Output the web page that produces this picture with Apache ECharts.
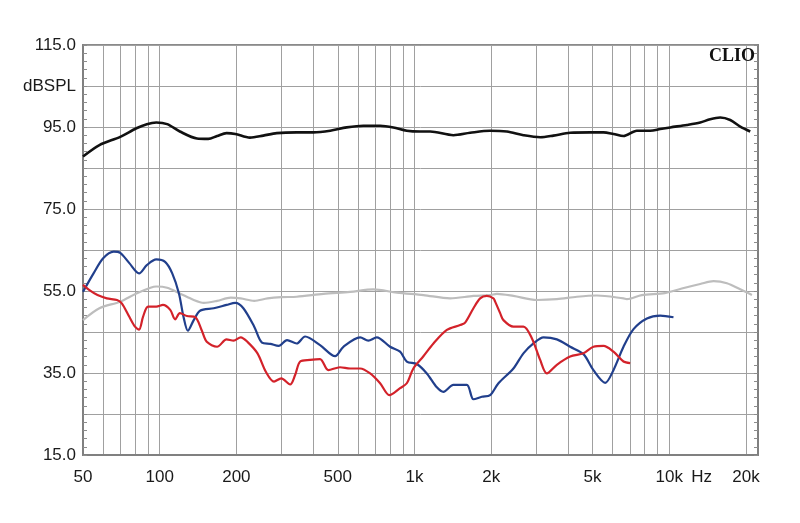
<!DOCTYPE html>
<html>
<head>
<meta charset="utf-8">
<script src="https://cdn.jsdelivr.net/npm/echarts@6/dist/echarts.min.js"></script>
<style>html,body{margin:0;padding:0;background:#fff;}#c{width:800px;height:523px;}</style>
</head>
<body>
<div id="c"></div>
<script>
// Frequency tick labels (Hz) and grid frequencies
const xLabelFreqs = [50, 100, 200, 500, 1000, 2000, 5000, 10000, 13400, 20000];
const xGridFreqs = [60,70,80,90,100,200,300,400,500,600,700,800,900,1000,2000,3000,4000,5000,6000,7000,8000,9000,10000,20000];
const yLabels = [15, 35, 55, 75, 95, 115];

// [Hz, dBSPL]
const blackCurve = [[50,87.8],[58,90.6],[70,92.6],[81,94.7],[89,95.7],[97,96.1],[107,95.7],[120,93.9],[140,92.2],[155,92.1],[168,92.8],[183,93.5],[198,93.3],[226,92.4],[255,92.9],[288,93.5],[345,93.7],[401,93.7],[467,94.1],[542,94.9],[630,95.3],[733,95.3],[826,94.9],[933,94.1],[1052,93.9],[1152,93.9],[1422,93.0],[1654,93.6],[1981,94.1],[2304,93.9],[2677,93.0],[3114,92.5],[3510,92.9],[4084,93.6],[4894,93.7],[5517,93.7],[6039,93.3],[6613,92.8],[7462,94.1],[8417,94.1],[9217,94.5],[10090,94.9],[11730,95.5],[13230,96.1],[14480,96.9],[15850,97.3],[17350,96.7],[18990,95.1],[20790,93.9]];
const grayCurve = [[50,47.9],[58,50.8],[70,52.4],[81,54.4],[92,55.8],[97,56.1],[107,55.8],[120,54.4],[136,52.8],[149,52.1],[168,52.6],[190,53.4],[208,53.2],[235,52.6],[265,53.2],[300,53.5],[345,53.6],[439,54.3],[559,54.8],[690,55.4],[852,54.6],[1084,54.0],[1380,53.2],[1704,53.8],[1981,54.0],[2106,54.3],[2445,53.8],[3022,52.8],[3621,53.0],[4339,53.6],[5200,53.9],[6613,53.2],[6817,53.0],[7800,54.0],[9600,54.5],[11200,55.6],[13230,56.7],[14920,57.4],[16840,56.9],[18990,55.4],[21110,54.0]];
const blueCurve = [[50,54.8],[55,59.3],[60,63.0],[66,64.6],[70,64.3],[76,61.8],[83,59.3],[89,61.3],[97,62.7],[105,62.1],[112,59.3],[119,54.4],[124,48.7],[129,45.3],[136,47.9],[144,50.2],[163,50.8],[183,51.6],[198,52.1],[213,50.8],[235,46.3],[252,42.4],[272,42.1],[293,41.6],[316,43.0],[345,42.2],[372,43.9],[426,41.8],[488,39.1],[526,41.4],[612,43.7],[659,42.9],[711,43.7],[802,41.4],[878,40.2],[933,37.8],[1021,37.2],[1118,34.9],[1224,31.5],[1299,30.4],[1422,32.1],[1605,32.1],[1704,28.6],[1838,29.2],[1981,29.6],[2136,32.5],[2445,36.1],[2677,39.8],[2931,42.2],[3209,43.7],[3621,43.2],[4084,41.4],[4605,39.6],[5040,35.7],[5605,32.6],[6039,35.7],[6613,41.4],[7240,45.7],[8170,48.3],[9217,49.0],[10390,48.6]];
const redCurve = [[50,56.5],[53,55.2],[57,54.0],[62,53.2],[68,52.8],[71,52.0],[76,48.7],[80,46.3],[83,45.6],[86,48.7],[90,51.2],[97,51.2],[103,51.6],[110,50.4],[115,48.1],[120,49.6],[128,48.9],[138,48.6],[146,45.5],[153,42.6],[168,41.4],[183,43.2],[195,42.9],[208,43.7],[221,42.6],[242,39.8],[261,35.3],[281,32.9],[300,33.7],[325,32.2],[340,34.5],[356,37.8],[389,38.2],[426,38.4],[459,35.7],[510,36.4],[559,36.1],[612,36.1],[670,34.9],[733,32.5],[797,29.6],[878,31.3],[933,32.5],[990,36.1],[1084,39.1],[1187,42.2],[1340,45.5],[1511,46.7],[1581,47.3],[1704,50.8],[1810,53.2],[1923,53.8],[2041,53.2],[2073,52.4],[2169,49.6],[2234,47.9],[2445,46.3],[2677,46.3],[2888,43.5],[3114,38.2],[3308,34.9],[3621,37.0],[4084,39.0],[4605,39.8],[5040,41.4],[5517,41.6],[6039,40.2],[6613,37.8],[7024,37.4]];

const L = Math.log10;
const toXY = arr => arr.map(p => [L(p[0]), p[1]]);
function fmtFreq(v) {
  const f = Math.round(Math.pow(10, v));
  if (f > 13000 && f < 14000) return 'Hz';
  if (f >= 1000) return (f / 1000) + 'k';
  return String(f);
}

const chart = echarts.init(document.getElementById('c'), null, {renderer: 'canvas'});
const gridColor = '#a0a0a0';
const tickColor = '#8c8c8c';
const mkLine = (data, color, width) => ({
  type: 'line', data: toXY(data), symbol: 'none', showSymbol: false, smooth: 0.3,
  lineStyle: {color: color, width: width}, silent: true, animation: false, z: 3
});
chart.setOption({
  animation: false,
  backgroundColor: '#ffffff',
  grid: {left: 83, right: 42, top: 45, bottom: 68, show: true, borderColor: '#8a8a8a', borderWidth: 2},
  xAxis: {
    type: 'value', min: L(50), max: L(22300),
    axisLine: {show: true, lineStyle: {color: '#808080', width: 2}},
    axisTick: {show: false, customValues: xGridFreqs.map(L)},
    axisLabel: {customValues: xLabelFreqs.map(L), formatter: fmtFreq, fontSize: 17, color: '#1a1a1a', margin: 14, fontFamily: 'Liberation Sans, Arial, sans-serif'},
    splitLine: {show: true, lineStyle: {color: gridColor, width: 1}}
  },
  yAxis: [{
    type: 'value', min: 15, max: 115, interval: 10,
    axisLine: {show: true, lineStyle: {color: '#808080', width: 2}},
    axisTick: {show: true, inside: true, length: 4, lineStyle: {color: tickColor}},
    minorTick: {show: true, splitNumber: 5, length: 4, lineStyle: {color: tickColor}},
    axisLabel: {
      fontSize: 17, color: '#1a1a1a', margin: 7, fontFamily: 'Liberation Sans, Arial, sans-serif',
      formatter: v => v === 105 ? 'dBSPL' : (yLabels.indexOf(v) >= 0 ? v.toFixed(1) : '')
    },
    splitLine: {show: true, lineStyle: {color: gridColor, width: 1}}
  }, {
    type: 'value', min: 15, max: 115, interval: 10, position: 'right',
    axisLine: {show: true, lineStyle: {color: '#808080', width: 2}},
    axisTick: {show: true, inside: true, length: 4, lineStyle: {color: tickColor}},
    minorTick: {show: true, splitNumber: 5, length: 4, lineStyle: {color: tickColor}},
    axisLabel: {show: false},
    splitLine: {show: false}
  }],
  graphic: [{
    type: 'text', right: 45, top: 47, z: 10,
    style: {text: 'CLIO', font: 'bold 18px "Liberation Serif", "DejaVu Serif", serif', fill: '#111'}
  }],
  series: [
    mkLine(grayCurve, '#bdbdbd', 2.2),
    mkLine(blueCurve, '#213f8c', 2.2),
    mkLine(redCurve, '#d3222a', 2.2),
    mkLine(blackCurve, '#111111', 2.6)
  ]
});
</script>
</body>
</html>
